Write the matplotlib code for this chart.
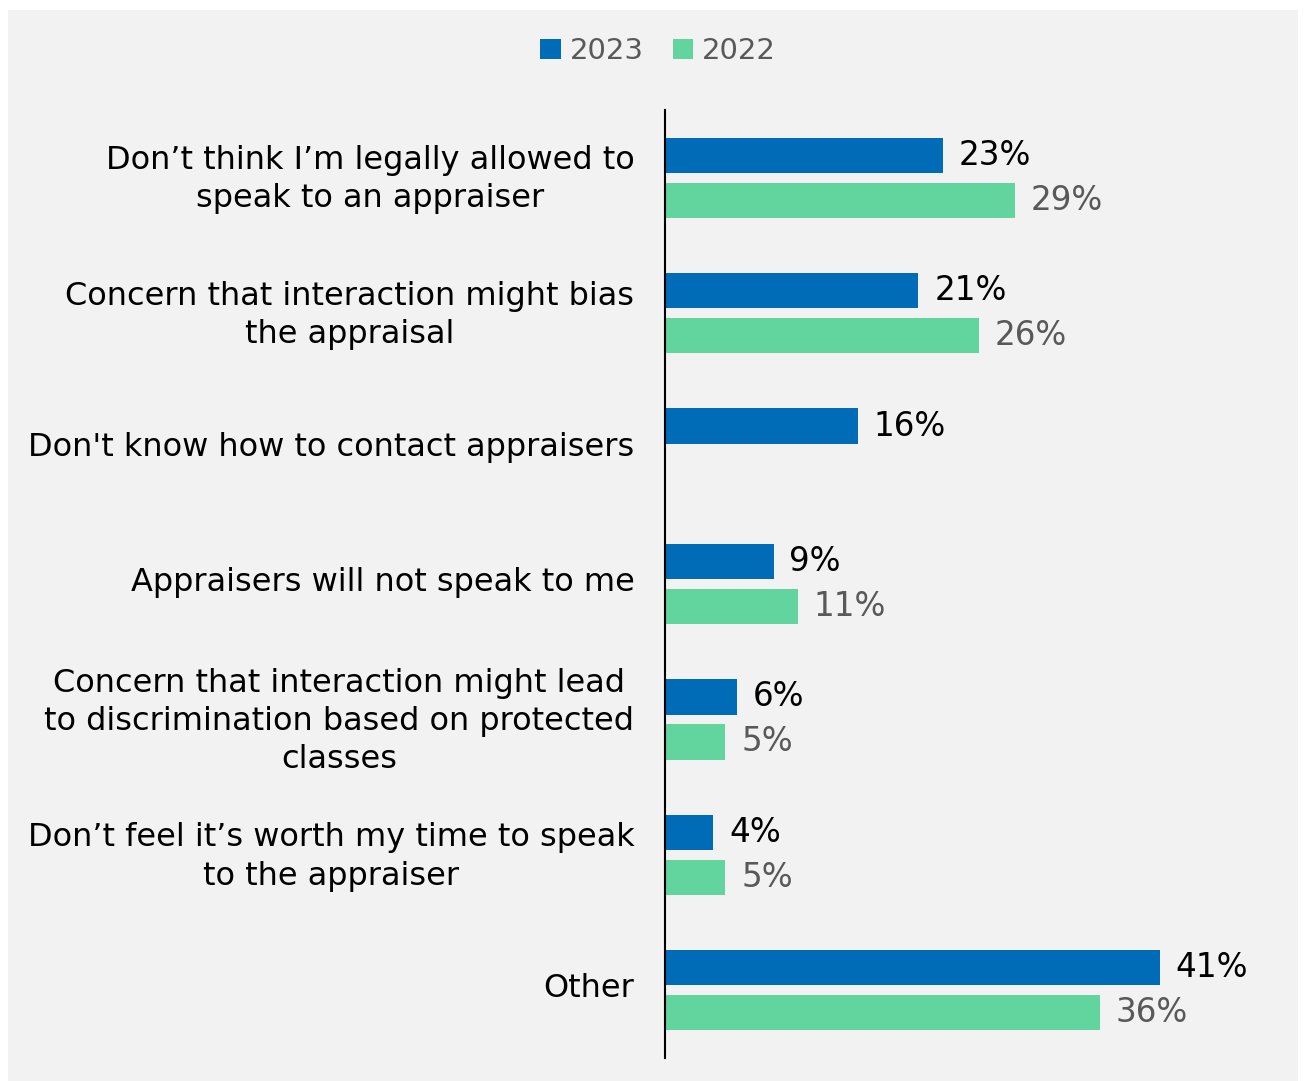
import numpy as np
import matplotlib.pyplot as plt
import matplotlib.transforms as mtransforms
from matplotlib.patches import Rectangle

# Причины не общаться с оценщиком, 2023 vs 2022
categories = [
    "Don\u2019t think I\u2019m legally allowed to\nspeak to an appraiser",
    "Concern that interaction might bias\nthe appraisal",
    "Don't know how to contact appraisers",
    "Appraisers will not speak to me",
    "Concern that interaction might lead\nto discrimination based on protected\nclasses",
    "Don\u2019t feel it\u2019s worth my time to speak\nto the appraiser",
    "Other",
]
values_2023 = [23, 21, 16, 9, 6, 4, 41]
values_2022 = [29, 26, None, 11, 5, 5, 36]

blue = "#006bb6"
green = "#62d49e"
bg = "#f2f2f2"

fig = plt.figure(figsize=(13.04, 10.81), dpi=100, facecolor="white")
# Серая подложка под графиком
fig.add_artist(Rectangle((8 / 1304, 0), 1290 / 1304, 1071 / 1081,
                         transform=fig.transFigure, facecolor=bg,
                         edgecolor="none", zorder=-10))

ax = fig.add_axes([665 / 1304, 23 / 1081, 625 / 1304, 948 / 1081])
ax.set_facecolor("none")

y = np.arange(len(categories))
h = 0.26
off = 0.166
ax.barh(y - off, values_2023, height=h, color=blue, label="2023")
y22 = [yy + off for yy, v in zip(y, values_2022) if v is not None]
v22 = [v for v in values_2022 if v is not None]
ax.barh(y22, v22, height=h, color=green, label="2022")

for yy, v in zip(y, values_2023):
    ax.text(v + 1.3, yy - off, f"{v}%", va="center", ha="left",
            fontsize=23.5, color="black")
for yy, v in zip(y22, v22):
    ax.text(v + 1.3, yy, f"{v}%", va="center", ha="left",
            fontsize=23.5, color="#595959")

ax.set_xlim(0, 625 / 12.07)
ax.set_ylim(len(categories) - 0.5, -0.5)
ax.set_yticks(y)
ax.set_yticklabels(categories, fontsize=23, ma="center", linespacing=1.3)
ax.tick_params(axis="y", length=0, pad=22)
# чуть приподнять подписи категорий
shift = mtransforms.ScaledTranslation(0, 5 / 100, fig.dpi_scale_trans)
for lbl in ax.get_yticklabels():
    lbl.set_transform(lbl.get_transform() + shift)
ax.set_xticks([])
for s in ["top", "right", "bottom"]:
    ax.spines[s].set_visible(False)
ax.spines["left"].set_linewidth(1.5)

ax.legend(loc="center", bbox_to_anchor=(658 / 1304, 1 - 51 / 1081),
          bbox_transform=fig.transFigure, ncol=2, frameon=False,
          fontsize=21, labelcolor="#595959", handlelength=0.7,
          handleheight=0.7, handletextpad=0.3, columnspacing=1.0)

fig.savefig("out.png", dpi=100, facecolor=fig.get_facecolor())
